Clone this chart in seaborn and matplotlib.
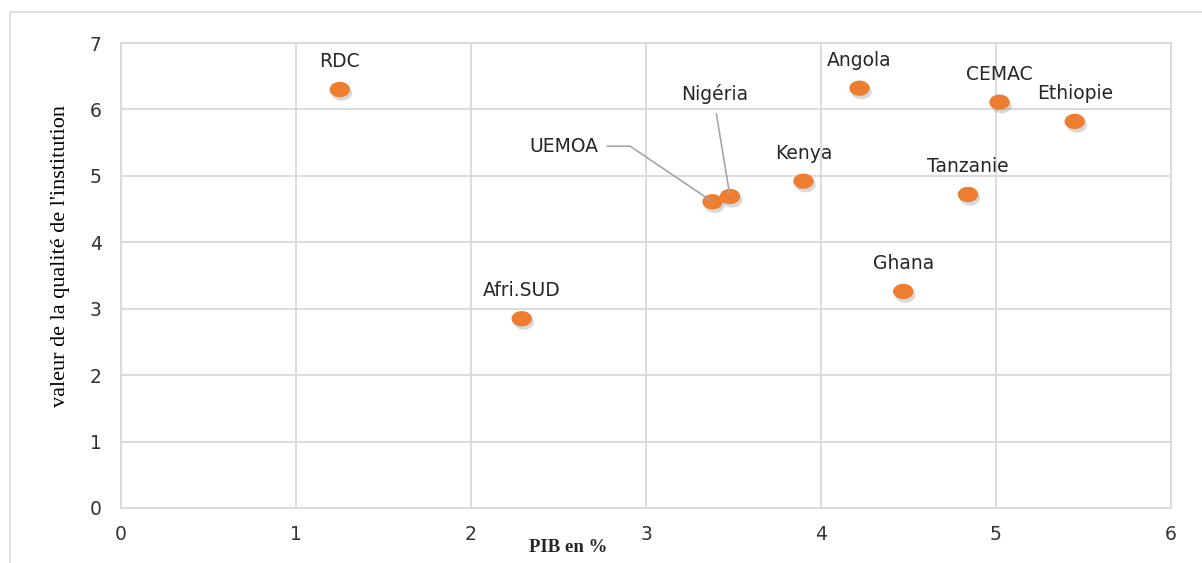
import numpy as np
import pandas as pd
import seaborn as sns
import matplotlib.pyplot as plt
import matplotlib.patheffects as pe
from matplotlib.path import Path
from matplotlib.patches import Rectangle

# data
pays = ["RDC", "Afri.SUD", "UEMOA", "Nigéria", "Kenya", "Angola",
        "Ghana", "Tanzanie", "CEMAC", "Ethiopie"]
pib = [1.25, 2.29, 3.38, 3.48, 3.90, 4.22, 4.47, 4.84, 5.02, 5.45]
qualite = [6.30, 2.85, 4.61, 4.69, 4.92, 6.32, 3.26, 4.72, 6.11, 5.82]

df = pd.DataFrame({"pays": pays, "pib": pib, "qualite": qualite})

ORANGE = "#ED7D31"
GRID = "#d9d9d9"

sns.set_style("whitegrid")
plt.rcParams["font.family"] = ["DejaVu Sans"]

fig = plt.figure(figsize=(12.02, 5.63), dpi=100)
ax = fig.add_axes([0.1007, 0.0977, 0.8735, 0.8259])

# slightly wide ellipse marker
t = np.linspace(0, 2 * np.pi, 60)
ellipse = Path(np.column_stack([np.cos(t), 0.75 * np.sin(t)]), closed=True)

sns.scatterplot(data=df, x="pib", y="qualite", ax=ax, marker=ellipse,
                s=215, color=ORANGE, edgecolor="none", zorder=3)
for coll in ax.collections:
    coll.set_path_effects([
        pe.SimplePatchShadow(offset=(1.5, -2.5), shadow_rgbFace="#7f7f7f", alpha=0.3),
        pe.Normal(),
    ])

# labels
lab_kw = dict(fontsize=13.5, color="#262626", ha="center", va="center",
              textcoords="offset points")
for name, x, y in zip(pays, pib, qualite):
    if name == "UEMOA":
        ax.annotate(name, (x, y), xytext=(-107, 40), zorder=4,
                    arrowprops=dict(arrowstyle="-", color="#a6a6a6", lw=1.2,
                                    shrinkA=4, shrinkB=2, relpos=(1, 0.5),
                                    connectionstyle="angle,angleA=0,angleB=146,rad=0"),
                    **lab_kw)
    elif name == "Nigéria":
        ax.annotate(name, (x, y), xytext=(-11, 74), zorder=4,
                    arrowprops=dict(arrowstyle="-", color="#a6a6a6", lw=1.2,
                                    shrinkA=5, shrinkB=2, relpos=(0.5, 0)),
                    **lab_kw)
    else:
        ax.annotate(name, (x, y), xytext=(0, 20), **lab_kw)

ax.set_xlim(0, 6)
ax.set_ylim(0, 7)
ax.set_xticks(range(0, 7))
ax.set_yticks(range(0, 8))
ax.grid(True, color=GRID, lw=1.3)
for sp in ax.spines.values():
    sp.set_color(GRID)
    sp.set_linewidth(1.3)
ax.tick_params(axis="both", length=0, labelsize=13.5, labelcolor="#333333")
ax.tick_params(axis="y", pad=14)
ax.tick_params(axis="x", pad=12)
ax.set_xlabel("")
ax.set_ylabel("")

fig.text(0.05, 0.545, "valeur de la qualité de l'institution", rotation=90,
         ha="center", va="center", fontsize=16, family="Liberation Serif",
         color="#000000")
fig.text(0.4726, 0.027, "PIB en %", ha="center", va="center", fontsize=13.5,
         family="Liberation Serif", fontweight="bold", color="#262626")

# outer chart frame
fig.add_artist(Rectangle((0.0083, -0.1), 1.2, 0.1 + 0.9787, transform=fig.transFigure,
                         fill=False, edgecolor=GRID, lw=1.2, clip_on=False))

plt.savefig("out.png", dpi=100)
